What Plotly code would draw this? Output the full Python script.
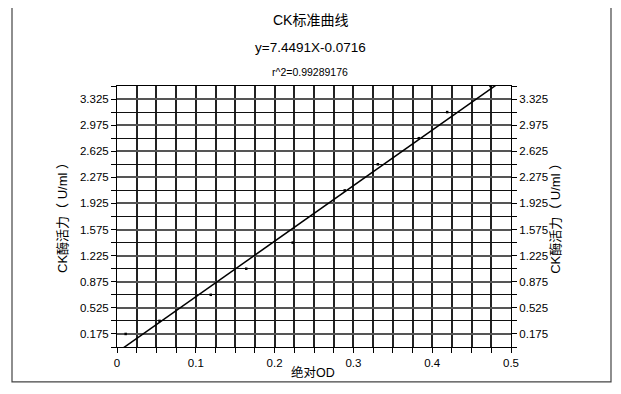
import plotly.graph_objects as go

# Data
od = [0.011, 0.054, 0.119, 0.164, 0.223, 0.289, 0.331, 0.383, 0.419, 0.474]
activity = [0.175, 0.35, 0.70, 1.05, 1.40, 2.10, 2.45, 2.80, 3.15, 3.50]
slope = 7.4491
intercept = -0.0716
fit_x = [0.0, 0.5]
fit_y = [slope * v + intercept for v in fit_x]

title = "CK标准曲线"
equation = "y=7.4491X-0.0716"
r2_text = "r^2=0.99289176"
x_title = "绝对OD"
y_title = "CK酶活力（ U/ml ）"

FONT = "Liberation Sans, Arial, Noto Sans CJK SC, sans-serif"

fig = go.Figure()
fig.add_trace(go.Scatter(x=fit_x, y=fit_y, mode="lines",
                         line=dict(color="black", width=1.5), hoverinfo="skip"))
fig.add_trace(go.Scatter(x=od, y=activity, mode="markers",
                         marker=dict(color="black", size=2.5, symbol="square"),
                         hoverinfo="skip"))
fig.add_trace(go.Scatter(x=od, y=activity, mode="markers", yaxis="y2",
                         marker=dict(opacity=0), hoverinfo="skip"))

yaxis_common = dict(
    range=[0, 3.5], tick0=0.175, dtick=0.35, tickformat=".3f",
    ticks="outside", ticklen=5, tickcolor="black", tickwidth=1,
    showline=True, linecolor="black", linewidth=1,
    showgrid=True, gridcolor="#555555", gridwidth=1.5,
    zeroline=False,
    tickfont=dict(size=11.5, color="black", family=FONT),
    minor=dict(tick0=0, dtick=0.175, ticks="outside", ticklen=5,
               tickcolor="black", showgrid=True, gridcolor="#111111",
               gridwidth=1),
    fixedrange=True,
)

fig.update_layout(
    width=621, height=394,
    margin=dict(l=109, r=118, t=78, b=55),
    paper_bgcolor="white", plot_bgcolor="white",
    showlegend=False,
    font=dict(family=FONT, size=11, color="black"),
    xaxis=dict(
        range=[0, 0.5], tick0=0, dtick=0.1,
        ticks="outside", ticklen=5, tickcolor="black",
        showline=True, linecolor="black", linewidth=1, mirror=True,
        showgrid=True, gridcolor="#222222", gridwidth=1.5,
        zeroline=False,
        tickfont=dict(size=11.5, color="black", family=FONT),
        minor=dict(tick0=0, dtick=0.025, ticks="outside", ticklen=5,
                   tickcolor="black", showgrid=True, gridcolor="#222222",
                   gridwidth=1.5),
    ),
    yaxis=dict(side="left", **yaxis_common),
    yaxis2=dict(side="right", overlaying="y", **yaxis_common),
)

fig.add_shape(type="rect", xref="paper", yref="paper",
              x0=-0.2665, x1=1.2538, y0=-0.134, y1=1.3218,
              line=dict(color="#444444", width=1.2), layer="below")

ann = [
    dict(text=title, x=0.49, y=1.2529, size=14),
    dict(text=equation, x=0.49, y=1.1494, size=13.5),
    dict(text=r2_text, x=0.49, y=1.0536, size=10.5),
    dict(text=x_title, x=0.497, y=-0.0996, size=12.5),
]
for a in ann:
    fig.add_annotation(text=a["text"], x=a["x"], y=a["y"], xref="paper", yref="paper",
                       showarrow=False, xanchor="center", yanchor="middle",
                       font=dict(size=a["size"], color="black", family=FONT))
for xp in (-0.137, 1.114):
    fig.add_annotation(text=y_title, x=xp, y=0.506, xref="paper", yref="paper",
                       showarrow=False, textangle=-90, xanchor="center", yanchor="middle",
                       font=dict(size=13, color="black", family=FONT))

fig.write_html("out.html", config={"displayModeBar": False})
